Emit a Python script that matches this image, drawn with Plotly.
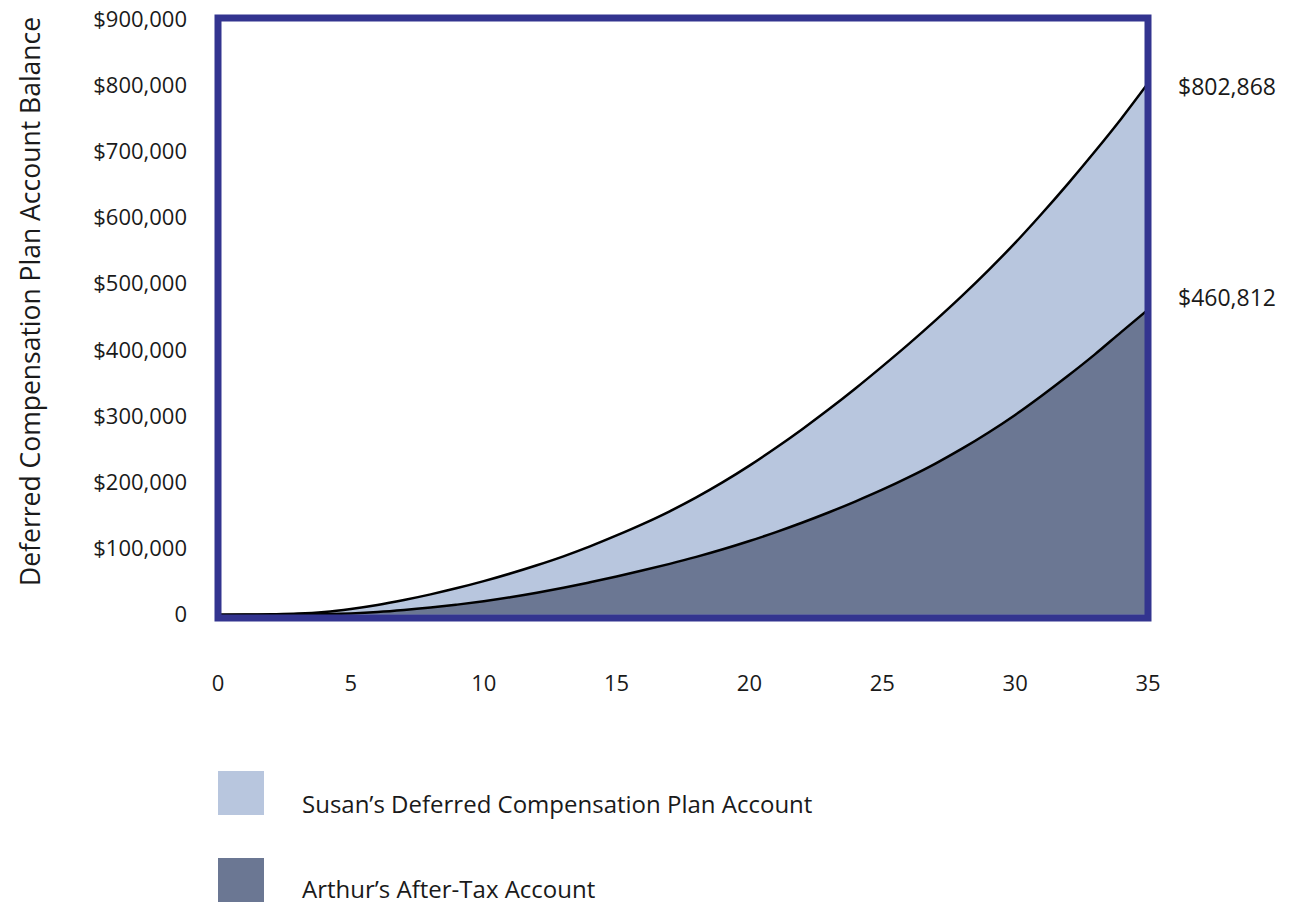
import plotly.graph_objects as go

years = list(range(0, 36))
susan = [0, 200, 700, 1700, 4200, 8700, 14700, 22200, 30700, 40200, 50700, 62200, 74700, 88200,
         103200, 119700, 137200, 156200, 177200, 200200, 225200, 252200, 280700, 310700, 342200,
         375200, 409200, 444700, 481700, 520700, 561700, 605700, 651700, 699700, 749700, 802868]
arthur = [0, 0, 0, 200, 700, 1900, 3900, 6900, 10700, 15200, 20400, 26400, 33200, 40700,
          48900, 57700, 67000, 76800, 87300, 98800, 111300, 124800, 139300, 154800, 171300,
          188800, 207800, 228300, 250800, 275300, 301800, 330800, 361300, 393300, 427300, 460812]

x_ticks = [0, 5, 10, 15, 20, 25, 30, 35]
x_ticktext = ["0", "5", "10", "15", "20", "25", "30", "35"]
y_ticks = [0, 100000, 200000, 300000, 400000, 500000, 600000, 700000, 800000, 900000]
y_ticktext = ["0", "$100,000", "$200,000", "$300,000", "$400,000", "$500,000",
              "$600,000", "$700,000", "$800,000", "$900,000"]
series_names = ["Susan\u2019s Deferred Compensation Plan Account", "Arthur\u2019s After-Tax Account"]
end_labels = ["$802,868", "$460,812"]

LIGHT = "#b8c6de"
DARK = "#6b7793"
BORDER = "#33348f"
FONT = "Open Sans"
TXT = "#1a1a1a"
TICK_SIZE = 22

fig = go.Figure()
fig.add_trace(go.Scatter(x=years, y=susan, mode="lines", fill="tozeroy", fillcolor=LIGHT,
                         line=dict(color="black", width=2.5, shape="spline"), name=series_names[0]))
fig.add_trace(go.Scatter(x=years, y=arthur, mode="lines", fill="tozeroy", fillcolor=DARK,
                         line=dict(color="black", width=2.5, shape="spline"), name=series_names[1]))

fig.update_layout(
    width=1291, height=904,
    margin=dict(l=218, r=143, t=18, b=286, autoexpand=False),
    paper_bgcolor="white", plot_bgcolor="white",
    showlegend=False,
    hovermode=False,
    font=dict(family=FONT, color=TXT),
    xaxis=dict(range=[0, 35], tickvals=x_ticks, ticktext=x_ticktext, showgrid=False,
               zeroline=False, showline=False, ticks="", ticklabelstandoff=50,
               automargin=False,
               tickfont=dict(size=TICK_SIZE, family=FONT, color=TXT)),
    yaxis=dict(range=[-5000, 901500], tickvals=y_ticks, ticktext=y_ticktext, showgrid=False,
               zeroline=False, showline=False, ticks="", ticklabelstandoff=30,
               ticklabeloverflow="allow", automargin=False,
               tickfont=dict(size=TICK_SIZE, family=FONT, color=TXT)),
)

# plot border
fig.add_shape(type="rect", xref="paper", yref="paper", x0=0, x1=1, y0=0, y1=1,
              line=dict(color=BORDER, width=7), layer="above")


def px_x(p):
    return (p - 218) / 930


def px_y(p):
    return (618 - p) / 600


# y-axis title
fig.add_annotation(text="Deferred Compensation Plan Account Balance", xref="paper", yref="paper",
                   x=px_x(30), y=px_y(302), xanchor="center", yanchor="middle",
                   textangle=-90, showarrow=False, font=dict(size=26.5, family=FONT, color=TXT))

# end labels
fig.add_annotation(text=end_labels[0], xref="paper", yref="y", x=1, y=susan[-1], xanchor="left",
                   xshift=28, yshift=-3, showarrow=False,
                   font=dict(size=TICK_SIZE + 1, family=FONT, color=TXT))
fig.add_annotation(text=end_labels[1], xref="paper", yref="y", x=1, y=arthur[-1], xanchor="left",
                   xshift=28, yshift=13, showarrow=False,
                   font=dict(size=TICK_SIZE + 1, family=FONT, color=TXT))

# legend (manual)
legend_items = [(LIGHT, series_names[0], 771, 815, 803), (DARK, series_names[1], 858, 902, 888)]
for color, label, top, bot, ty in legend_items:
    fig.add_shape(type="rect", xref="paper", yref="paper", x0=px_x(218), x1=px_x(264),
                  y0=px_y(bot), y1=px_y(top), fillcolor=color, line=dict(width=0))
    fig.add_annotation(text=label, xref="paper", yref="paper", x=px_x(300), y=px_y(ty),
                       xanchor="left", yanchor="middle", showarrow=False,
                       font=dict(size=24, family=FONT, color=TXT))

fig.write_html("out.html", config={"displayModeBar": False, "staticPlot": True},
               post_script="document.body.style.margin='0';")
